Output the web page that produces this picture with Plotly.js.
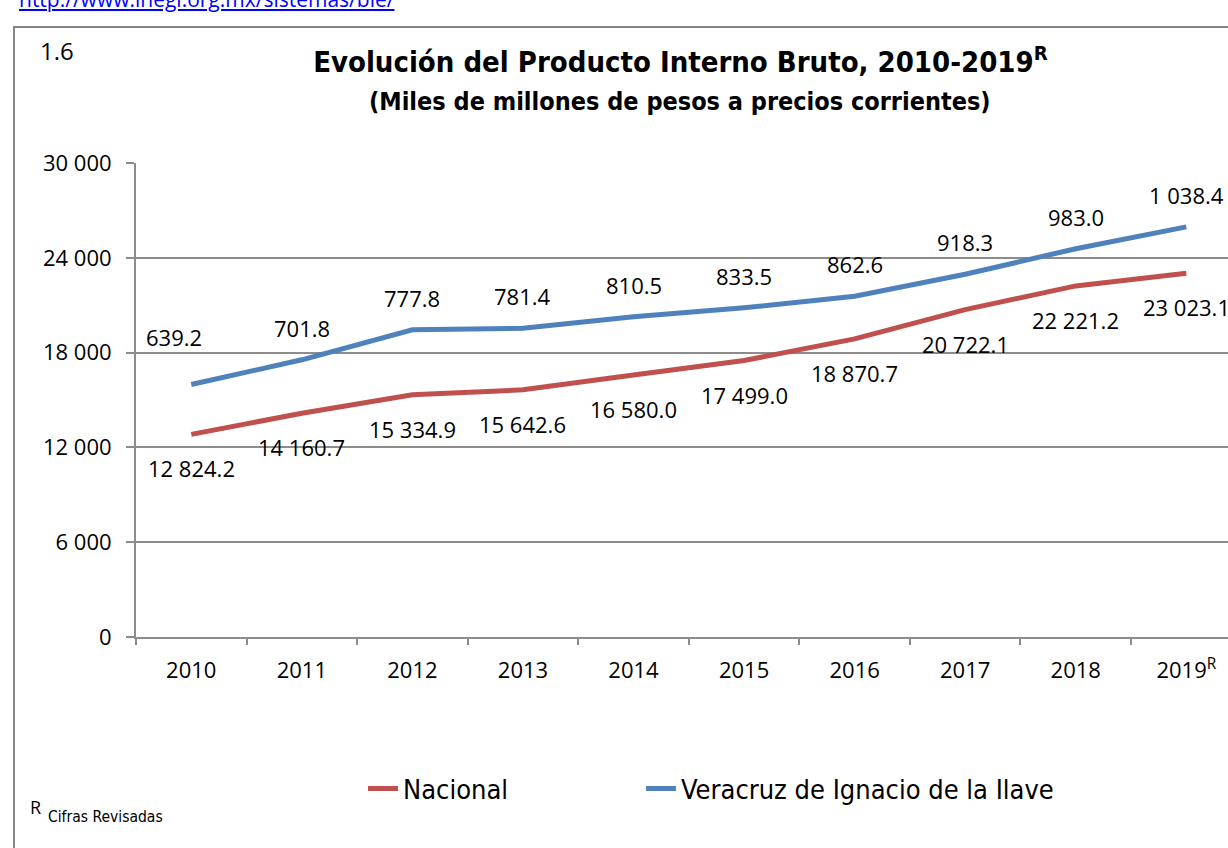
<!DOCTYPE html>
<html lang="es">
<head>
  <meta charset="UTF-8" />
  <title>PIB Veracruz 2010-2019</title>
  <script src="https://cdn.plot.ly/plotly-3.0.1.min.js"></script>
  <style>
    body {
      margin: 0;
      width: 1228px;
      height: 848px;
      overflow: hidden;
      background: #fff;
      position: relative;
      font-family: "Open Sans", sans-serif;
    }

    #frame {
      position: absolute;
      left: 13px;
      top: 26px;
      width: 1300px;
      height: 900px;
      border: 2px solid #868686;
    }

    #url {
      position: absolute;
      left: 19px;
      top: -11px;
      font-size: 21px;
      line-height: 21px;
      color: #0000ff;
      text-decoration: underline;
      white-space: nowrap;
    }

    #chart {
      position: absolute;
      left: 0;
      top: 0;
      width: 1228px;
      height: 848px;
    }
  </style>
</head>
<body>
  <div id="frame"></div>
  <div id="url">http://www.inegi.org.mx/sistemas/bie/</div>
  <div id="chart"></div>

  <script>
    const years = ['2010', '2011', '2012', '2013', '2014', '2015', '2016', '2017', '2018', '2019'];
    const yearLabels = ['2010', '2011', '2012', '2013', '2014', '2015', '2016', '2017', '2018', '2019<sup>R</sup>'];
    const nacional = [12824.2, 14160.7, 15334.9, 15642.6, 16580.0, 17499.0, 18870.7, 20722.1, 22221.2, 23023.1];
    const veracruz = [639.2, 701.8, 777.8, 781.4, 810.5, 833.5, 862.6, 918.3, 983.0, 1038.4];
    const yTicks = [0, 6000, 12000, 18000, 24000, 30000];

    const RED = '#C0504D';
    const BLUE = '#4F81BD';
    const GRID = '#8c8c8c';
    const NARROW = '"DejaVu Sans Condensed", "Liberation Sans Narrow", sans-serif';
    const SANS = '"Open Sans", "Noto Sans", sans-serif';

    // 12824.2 -> "12 824.2"
    function fmt(v) {
      return v.toFixed(1).replace(/\B(?=(\d{3})+(?!\d))/g, ' ');
    }

    const labelFont = { family: SANS, size: 22, color: '#000' };

    const annotations = [];
    years.forEach((yr, i) => {
      // the first Veracruz label sits a bit higher and to the left in the original
      const first = i === 0;
      annotations.push({
        x: i, y: veracruz[i], xref: 'x', yref: 'y2',
        text: fmt(veracruz[i]), showarrow: false, font: labelFont,
        yanchor: 'middle', yshift: first ? 48 : 32, xshift: first ? -17 : 0
      });
      annotations.push({
        x: i, y: nacional[i], xref: 'x', yref: 'y',
        text: fmt(nacional[i]), showarrow: false, font: labelFont,
        yanchor: 'middle', yshift: -34
      });
    });

    // subtitle
    annotations.push({
      xref: 'paper', yref: 'paper', x: 0.4982, y: 1.1287,
      xanchor: 'center', yanchor: 'middle', showarrow: false,
      text: '<b>(Miles de millones de pesos a precios corrientes)</b>',
      font: { family: NARROW, size: 25, color: '#000' }
    });
    // "1.6" in the corner
    annotations.push({
      xref: 'paper', yref: 'paper', x: -0.0897, y: 1.2363,
      xanchor: 'left', yanchor: 'middle', showarrow: false,
      text: '1.6', font: { family: SANS, size: 24, color: '#000' }
    });
    // footnote
    annotations.push({
      xref: 'paper', yref: 'paper', x: -0.0990, y: -0.3592,
      xanchor: 'left', yanchor: 'middle', showarrow: false,
      text: 'R', font: { family: SANS, size: 18, color: '#000' }
    });
    annotations.push({
      xref: 'paper', yref: 'paper', x: -0.0824, y: -0.3803,
      xanchor: 'left', yanchor: 'middle', showarrow: false,
      text: 'Cifras Revisadas', font: { family: NARROW, size: 15.5, color: '#000' }
    });

    const traces = [
      {
        x: years, y: nacional, name: 'Nacional', type: 'scatter', mode: 'lines',
        line: { color: RED, width: 5 }, yaxis: 'y', legend: 'legend'
      },
      {
        x: years, y: veracruz, name: 'Veracruz de Ignacio de la Ilave', type: 'scatter', mode: 'lines',
        line: { color: BLUE, width: 5 }, yaxis: 'y2', legend: 'legend2'
      }
    ];

    const legendFont = { family: NARROW, size: 27, color: '#000' };

    const layout = {
      width: 1228,
      height: 848,
      margin: { l: 136, r: 0, t: 163, b: 211 },
      paper_bgcolor: 'rgba(0,0,0,0)',
      plot_bgcolor: 'rgba(0,0,0,0)',
      separators: '. ',
      showlegend: true,
      title: {
        text: '<b>Evolución del Producto Interno Bruto, 2010-2019<sup>R</sup></b>',
        font: { family: NARROW, size: 29, color: '#000' },
        xref: 'container', yref: 'container',
        x: 0.5541, xanchor: 'center', y: 0.9269, yanchor: 'middle'
      },
      xaxis: {
        type: 'category',
        range: [-0.5, 9.377],
        tickvals: years,
        ticktext: yearLabels,
        tickson: 'boundaries',
        ticks: 'outside',
        ticklen: 6,
        tickwidth: 2,
        tickcolor: GRID,
        showline: true,
        linecolor: GRID,
        linewidth: 2,
        showgrid: false,
        tickfont: { family: SANS, size: 22, color: '#000' },
        ticklabelstandoff: 13,
        fixedrange: true
      },
      yaxis: {
        range: [0, 30000],
        tickvals: yTicks,
        tickformat: ',',
        ticks: 'outside',
        ticklen: 8,
        tickwidth: 2,
        tickcolor: GRID,
        showline: true,
        linecolor: GRID,
        linewidth: 2,
        showgrid: true,
        gridcolor: GRID,
        gridwidth: 2,
        zeroline: false,
        tickfont: { family: SANS, size: 22, color: '#000' },
        ticklabelstandoff: 10,
        fixedrange: true
      },
      yaxis2: {
        overlaying: 'y',
        side: 'right',
        range: [0, 1200],
        visible: false,
        fixedrange: true
      },
      legend: {
        orientation: 'h',
        xref: 'paper', yref: 'paper',
        x: 0.2079, xanchor: 'left',
        y: -0.3207, yanchor: 'middle',
        font: legendFont,
        bgcolor: 'rgba(0,0,0,0)'
      },
      legend2: {
        orientation: 'h',
        xref: 'paper', yref: 'paper',
        x: 0.4625, xanchor: 'left',
        y: -0.3207, yanchor: 'middle',
        font: legendFont,
        bgcolor: 'rgba(0,0,0,0)'
      },
      annotations: annotations
    };

    Plotly.newPlot('chart', traces, layout, { displayModeBar: false, staticPlot: true });
  </script>
</body>
</html>
